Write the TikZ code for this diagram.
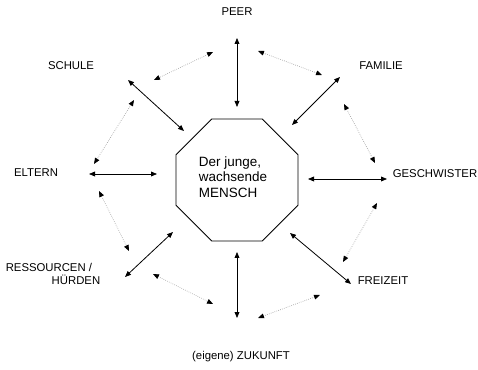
\documentclass[tikz,border=0pt]{standalone}
\usepackage{fontspec}
\setmainfont{Liberation Sans}
\usetikzlibrary{shapes.geometric,arrows.meta}
\begin{document}
\begin{tikzpicture}[x=0.75pt,y=-0.75pt,
  lab/.style={font=\fontsize{8.5}{10}\selectfont,inner sep=0pt},
  strong/.style={line width=0.6pt,{Triangle[length=4.5pt,width=3.6pt]}-{Triangle[length=4.5pt,width=3.6pt]}},
  weak/.style={line width=0.5pt,gray!75,densely dotted,{Triangle[length=4.5pt,width=3.6pt,black]}-{Triangle[length=4.5pt,width=3.6pt,black]}},
  octo/.style={regular polygon,regular polygon sides=8,draw,line width=0.7pt,minimum size=99pt,inner sep=0pt},
  centertext/.style={align=left,inner sep=0pt,font=\fontsize{10.1}{11.8}\selectfont}]
\useasboundingbox (0,0) rectangle (478,370);
\node[octo] (m) at (237,180) {};
\node[centertext] (mt) at (233,177) {Der junge,\\wachsende\\MENSCH};
\node[lab] (peer) at (237,12) {PEER};
\node[lab] (schule) at (71,66) {SCHULE};
\node[lab] (familie) at (381,66) {FAMILIE};
\node[lab] (eltern) at (36,173) {ELTERN};
\node[lab] (gesch) at (435,174) {GESCHWISTER};
\node[lab,align=right] (ress) at (53,274) {RESSOURCEN /\phantom{H}\\HÜRDEN};
\node[lab] (frei) at (383,281) {FREIZEIT};
\node[lab] (zuk) at (241,357) {(eigene) ZUKUNFT};
% strong arrow endpoints
\coordinate (p1) at (237,38); \coordinate (p2) at (237,107);
\coordinate (s1) at (128,80); \coordinate (s2) at (184,131);
\coordinate (f1) at (340,77); \coordinate (f2) at (292,125);
\coordinate (e1) at (89,174); \coordinate (e2) at (157,174);
\coordinate (g1) at (387,179); \coordinate (g2) at (308,179);
\coordinate (r1) at (125,277); \coordinate (r2) at (173,232);
\coordinate (fr1) at (351,284); \coordinate (fr2) at (290,233);
\coordinate (z1) at (237,318); \coordinate (z2) at (237,252);
\draw[strong] (p1) -- (p2);
\draw[strong] (s1) -- (s2);
\draw[strong] (f1) -- (f2);
\draw[strong] (e1) -- (e2);
\draw[strong] (g1) -- (g2);
\draw[strong] (r1) -- (r2);
\draw[strong] (fr1) -- (fr2);
\draw[strong] (z1) -- (z2);
% weak arrow endpoints
\coordinate (ps1) at (213,52); \coordinate (ps2) at (154,80);
\coordinate (pf1) at (258,51); \coordinate (pf2) at (322,75);
\coordinate (se1) at (134,100); \coordinate (se2) at (94,164);
\coordinate (fg1) at (344,104); \coordinate (fg2) at (375,163);
\coordinate (er1) at (99,191); \coordinate (er2) at (129,251);
\coordinate (gf1) at (377,203); \coordinate (gf2) at (343,262);
\coordinate (rz1) at (153,274); \coordinate (rz2) at (213,304);
\coordinate (fz1) at (320,295); \coordinate (fz2) at (258,318);
\draw[weak] (ps1) -- (ps2);
\draw[weak] (pf1) -- (pf2);
\draw[weak] (se1) -- (se2);
\draw[weak] (fg1) -- (fg2);
\draw[weak] (er1) -- (er2);
\draw[weak] (gf1) -- (gf2);
\draw[weak] (rz1) -- (rz2);
\draw[weak] (fz1) -- (fz2);
\end{tikzpicture}
\end{document}
